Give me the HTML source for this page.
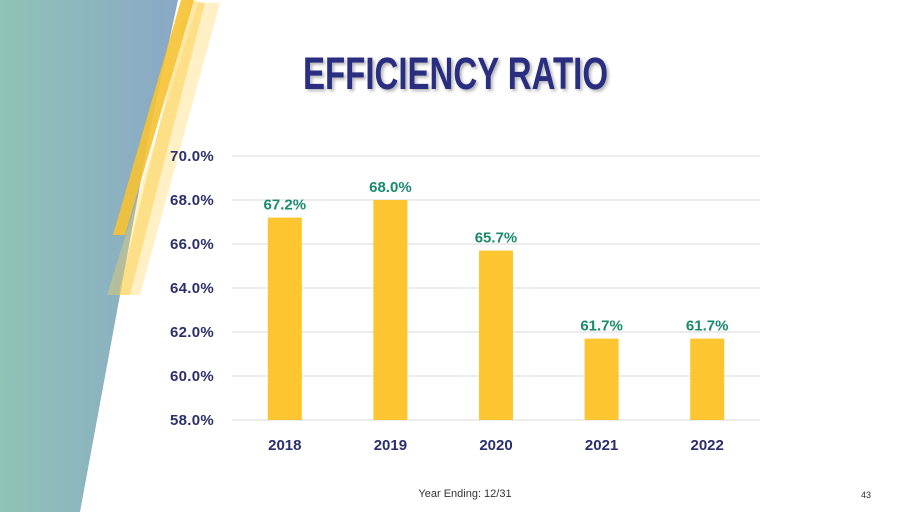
<!DOCTYPE html>
<html><head><meta charset="utf-8"><style>
html,body{margin:0;padding:0;background:#fff;}
svg{display:block;font-family:"Liberation Sans",sans-serif;}
</style></head><body>
<svg id="chart" width="911" height="512" viewBox="0 0 911 512">
<defs>
<linearGradient id="bg" x1="0" x2="1" y1="0" y2="0">
<stop offset="0" stop-color="#8fc3b6"/><stop offset="1" stop-color="#8aa8c6"/>
</linearGradient>
<filter id="sh"><feDropShadow dx="2" dy="2" stdDeviation="1.5" flood-color="#000" flood-opacity="0.3"/></filter>
</defs>
<polygon points="0,0 178,0 150,130 120,295 80,512 0,512" fill="url(#bg)"/>
<polygon points="198,3 220,3 140,295 107,295" fill="#ffd75a" opacity="0.35"/>
<polygon points="190,0 205,3 130,295 118,295" fill="#f8c93a" opacity="0.45"/>
<polygon points="181,0 194,0 125,235 113,235" fill="#f6c232" opacity="0.9"/>
<text x="303" y="89" font-size="45" font-weight="bold" fill="#2b2f80" textLength="305" lengthAdjust="spacingAndGlyphs" filter="url(#sh)">EFFICIENCY RATIO</text>
<g id="grid"></g><g id="bars"></g>
<text x="465" y="497" font-size="11" fill="#333" text-anchor="middle">Year Ending: 12/31</text>
<text x="866" y="498" font-size="9" fill="#333" text-anchor="middle">43</text>
</svg>
<script>
const categories=["2018","2019","2020","2021","2022"];
const values=[67.2,68.0,65.7,61.7,61.7];
const ticks=[58,60,62,64,66,68,70];
const NS="http://www.w3.org/2000/svg";
const x0=232,x1=760,yMin=58,yMax=70,yTop=156,yBot=420;
const y=v=>yBot-(v-yMin)/(yMax-yMin)*(yBot-yTop);
const band=(x1-x0)/categories.length;
const xc=i=>x0+band*(i+0.5);
function mk(t,a,p){const e=document.createElementNS(NS,t);for(const k in a)e.setAttribute(k,a[k]);p.appendChild(e);return e;}
const g=document.getElementById('grid'),b=document.getElementById('bars');
ticks.forEach(t=>{
const l=mk('line',{x1:x0,x2:x1,y1:y(t),y2:y(t),stroke:'#d9d9d9','stroke-width':1},g);


const tx=mk('text',{x:214,y:y(t)+5,'font-size':15,'font-weight':'bold',fill:'#2b2f6e','text-anchor':'end','letter-spacing':'0.3'},g);
tx.textContent=t.toFixed(1)+'%';


});
categories.forEach((c,i)=>{
const r=mk('rect',{x:xc(i)-17,y:y(values[i]),width:34,height:yBot-y(values[i]),fill:'#fdc52f'},b);


const v=mk('text',{x:xc(i),y:y(values[i])-8,'font-size':15,'font-weight':'bold',fill:'#1a8a6e','text-anchor':'middle'},b);
v.textContent=values[i].toFixed(1)+'%';


const cl=mk('text',{x:xc(i),y:450,'font-size':15,'font-weight':'bold',fill:'#2b2f6e','text-anchor':'middle'},b);
cl.textContent=c;


});
</script>
</body></html>
